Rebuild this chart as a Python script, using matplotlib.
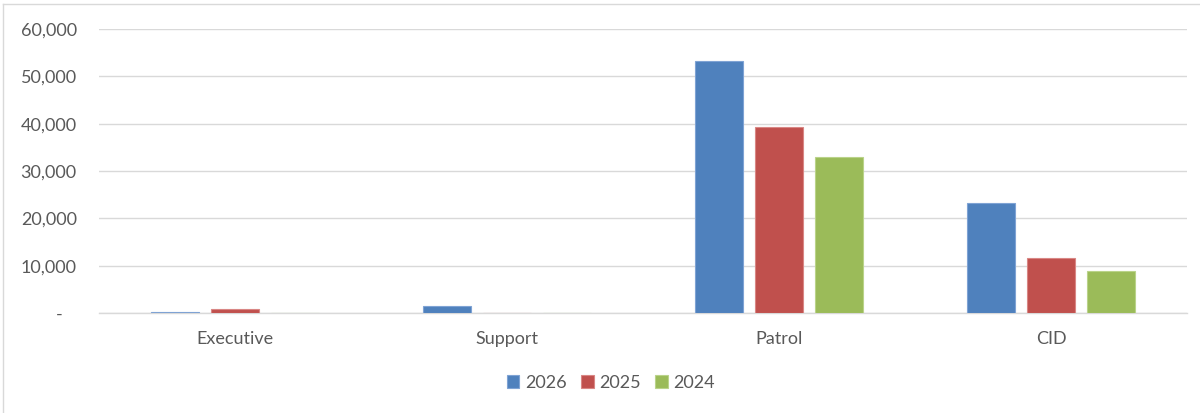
import numpy as np
import matplotlib
matplotlib.use("Agg")
import matplotlib.pyplot as plt
from matplotlib.lines import Line2D
from matplotlib.ticker import FuncFormatter

# data
categories = ["Executive", "Support", "Patrol", "CID"]
years = ["2026", "2025", "2024"]
vals_2026 = [300, 1400, 53300, 23300]
vals_2025 = [800, 0, 39200, 11600]
vals_2024 = [0, 0, 32900, 8950]
yticks = [0, 10000, 20000, 30000, 40000, 50000, 60000]

colors = ["#4F81BD", "#C0504D", "#9BBB59"]
edges = ["#7FA3D4", "#D98785", "#BAD38A"]

plt.rcParams['font.family'] = ['Lato', 'DejaVu Sans']

fig = plt.figure(figsize=(12, 4.13), dpi=100)
ax = fig.add_axes([99/1200, 1-313/413, 1088/1200, (313-29)/413])

x = np.arange(len(categories))
w = 0.176
step = 0.221
series = [vals_2026, vals_2025, vals_2024]
for i, s in enumerate(series):
    ax.bar(x + (i-1)*step, s, width=w, color=colors[i], edgecolor=edges[i],
           linewidth=0.8, label=years[i], zorder=3)

ax.set_xlim(-0.5, 3.5)
ax.set_ylim(0, 60000)
ax.set_yticks(yticks)
ax.yaxis.set_major_formatter(FuncFormatter(lambda v, p: "-   " if v == 0 else "{:,.0f}".format(v)))
ax.set_xticks(x)
ax.set_xticklabels(categories)
ax.grid(axis='y', color='#D9D9D9', linewidth=1, zorder=0)
for sp in ['top', 'right', 'left']:
    ax.spines[sp].set_visible(False)
ax.spines['bottom'].set_color('#D9D9D9')
ax.spines['bottom'].set_linewidth(1)
ax.tick_params(axis='both', length=0, colors='#595959', labelsize=13)
ax.tick_params(axis='y', pad=16)
ax.tick_params(axis='x', pad=13)

leg = fig.legend(loc='center', bbox_to_anchor=(0.509, 1-383/413), ncol=3, frameon=False,
                 handlelength=0.7, handleheight=0.7, handletextpad=0.3, columnspacing=0.8,
                 fontsize=13)
for t in leg.get_texts():
    t.set_color('#595959')

# chart frame (only top and left edges are in the picture)
fig.add_artist(Line2D([3/1200, 3/1200], [0, 1-4/413], transform=fig.transFigure,
                      color='#D9D9D9', linewidth=1))
fig.add_artist(Line2D([3/1200, 1], [1-4/413, 1-4/413], transform=fig.transFigure,
                      color='#D9D9D9', linewidth=1))

fig.savefig("out.png", dpi=100)
